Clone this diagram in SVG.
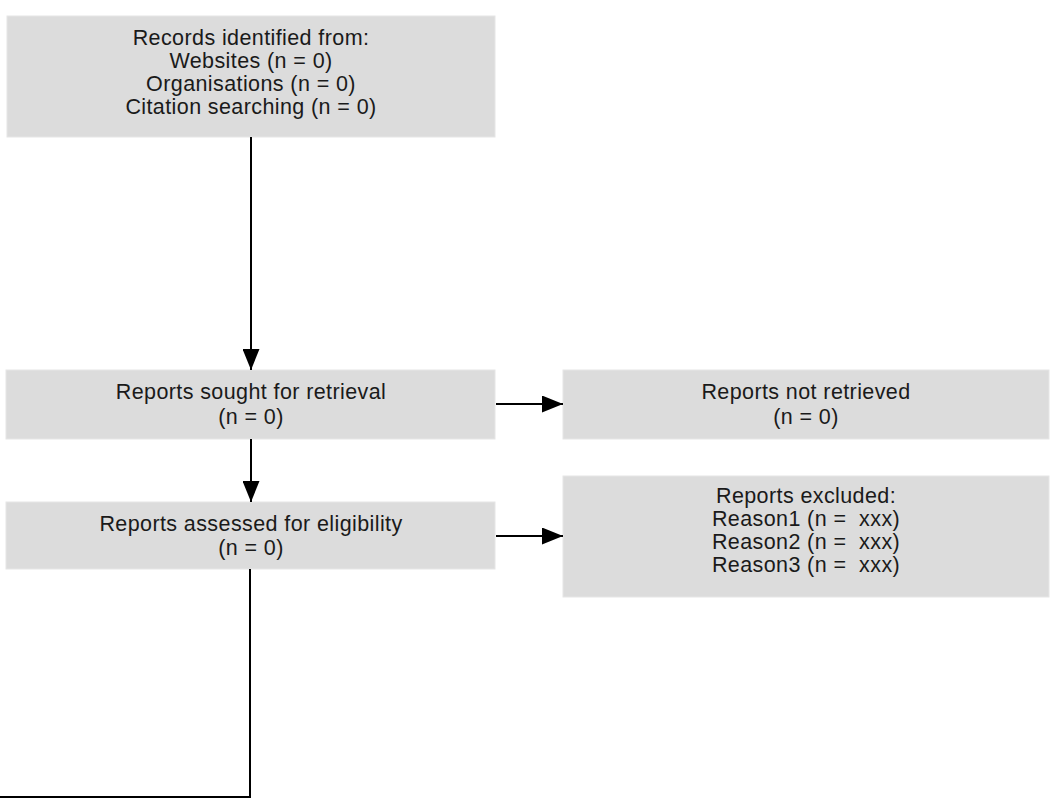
<svg xmlns="http://www.w3.org/2000/svg" width="1050" height="804" viewBox="0 0 1050 804">
  <style>
    .box { fill: #dcdcdc; stroke: #e6e6e6; stroke-width: 1; }
    .label { font-family: "Liberation Sans", Arial, Helvetica, sans-serif; font-size: 21.5px; letter-spacing: 0.4px; fill: #1a1a1a; text-anchor: middle; }
    .edge { stroke: #000; stroke-width: 2; fill: none; }
  </style>
  <defs>
    <marker id="arrow" viewBox="0 0 21 17" refX="21" refY="8.5" markerWidth="21" markerHeight="17" markerUnits="userSpaceOnUse" orient="auto">
      <path d="M0,0 L21,8.5 L0,17 Z" fill="#000"/>
    </marker>
  </defs>
  <rect width="1050" height="804" fill="#fff"/>

  <g id="records-identified">
    <rect class="box" x="7" y="16" width="488" height="121"/>
    <text class="label" x="251" y="45">Records identified from:</text>
    <text class="label" x="251" y="68">Websites (n = 0)</text>
    <text class="label" x="251" y="91">Organisations (n = 0)</text>
    <text class="label" x="251" y="114">Citation searching (n = 0)</text>
  </g>

  <g id="reports-sought">
    <rect class="box" x="6" y="370" width="489" height="69"/>
    <text class="label" x="251" y="399">Reports sought for retrieval</text>
    <text class="label" x="251" y="424">(n = 0)</text>
  </g>

  <g id="reports-not-retrieved">
    <rect class="box" x="563" y="370" width="486" height="69"/>
    <text class="label" x="806" y="399">Reports not retrieved</text>
    <text class="label" x="806" y="424">(n = 0)</text>
  </g>

  <g id="reports-assessed">
    <rect class="box" x="6" y="502" width="489" height="67"/>
    <text class="label" x="251" y="531">Reports assessed for eligibility</text>
    <text class="label" x="251" y="555">(n = 0)</text>
  </g>

  <g id="reports-excluded">
    <rect class="box" x="563" y="476" width="486" height="121"/>
    <text class="label" x="806" y="503">Reports excluded:</text>
    <text class="label" x="806" y="526" xml:space="preserve">Reason1 (n =  xxx)</text>
    <text class="label" x="806" y="549" xml:space="preserve">Reason2 (n =  xxx)</text>
    <text class="label" x="806" y="572" xml:space="preserve">Reason3 (n =  xxx)</text>
  </g>

  <g id="connectors">
    <line class="edge" x1="251" y1="137" x2="251" y2="370" marker-end="url(#arrow)"/>
    <line class="edge" x1="251" y1="439" x2="251" y2="502" marker-end="url(#arrow)"/>
    <line class="edge" x1="496" y1="404" x2="563" y2="404" marker-end="url(#arrow)"/>
    <line class="edge" x1="496" y1="536" x2="563" y2="536" marker-end="url(#arrow)"/>
    <path class="edge" d="M250,569 V797 H0" stroke="#333"/>
  </g>
</svg>
